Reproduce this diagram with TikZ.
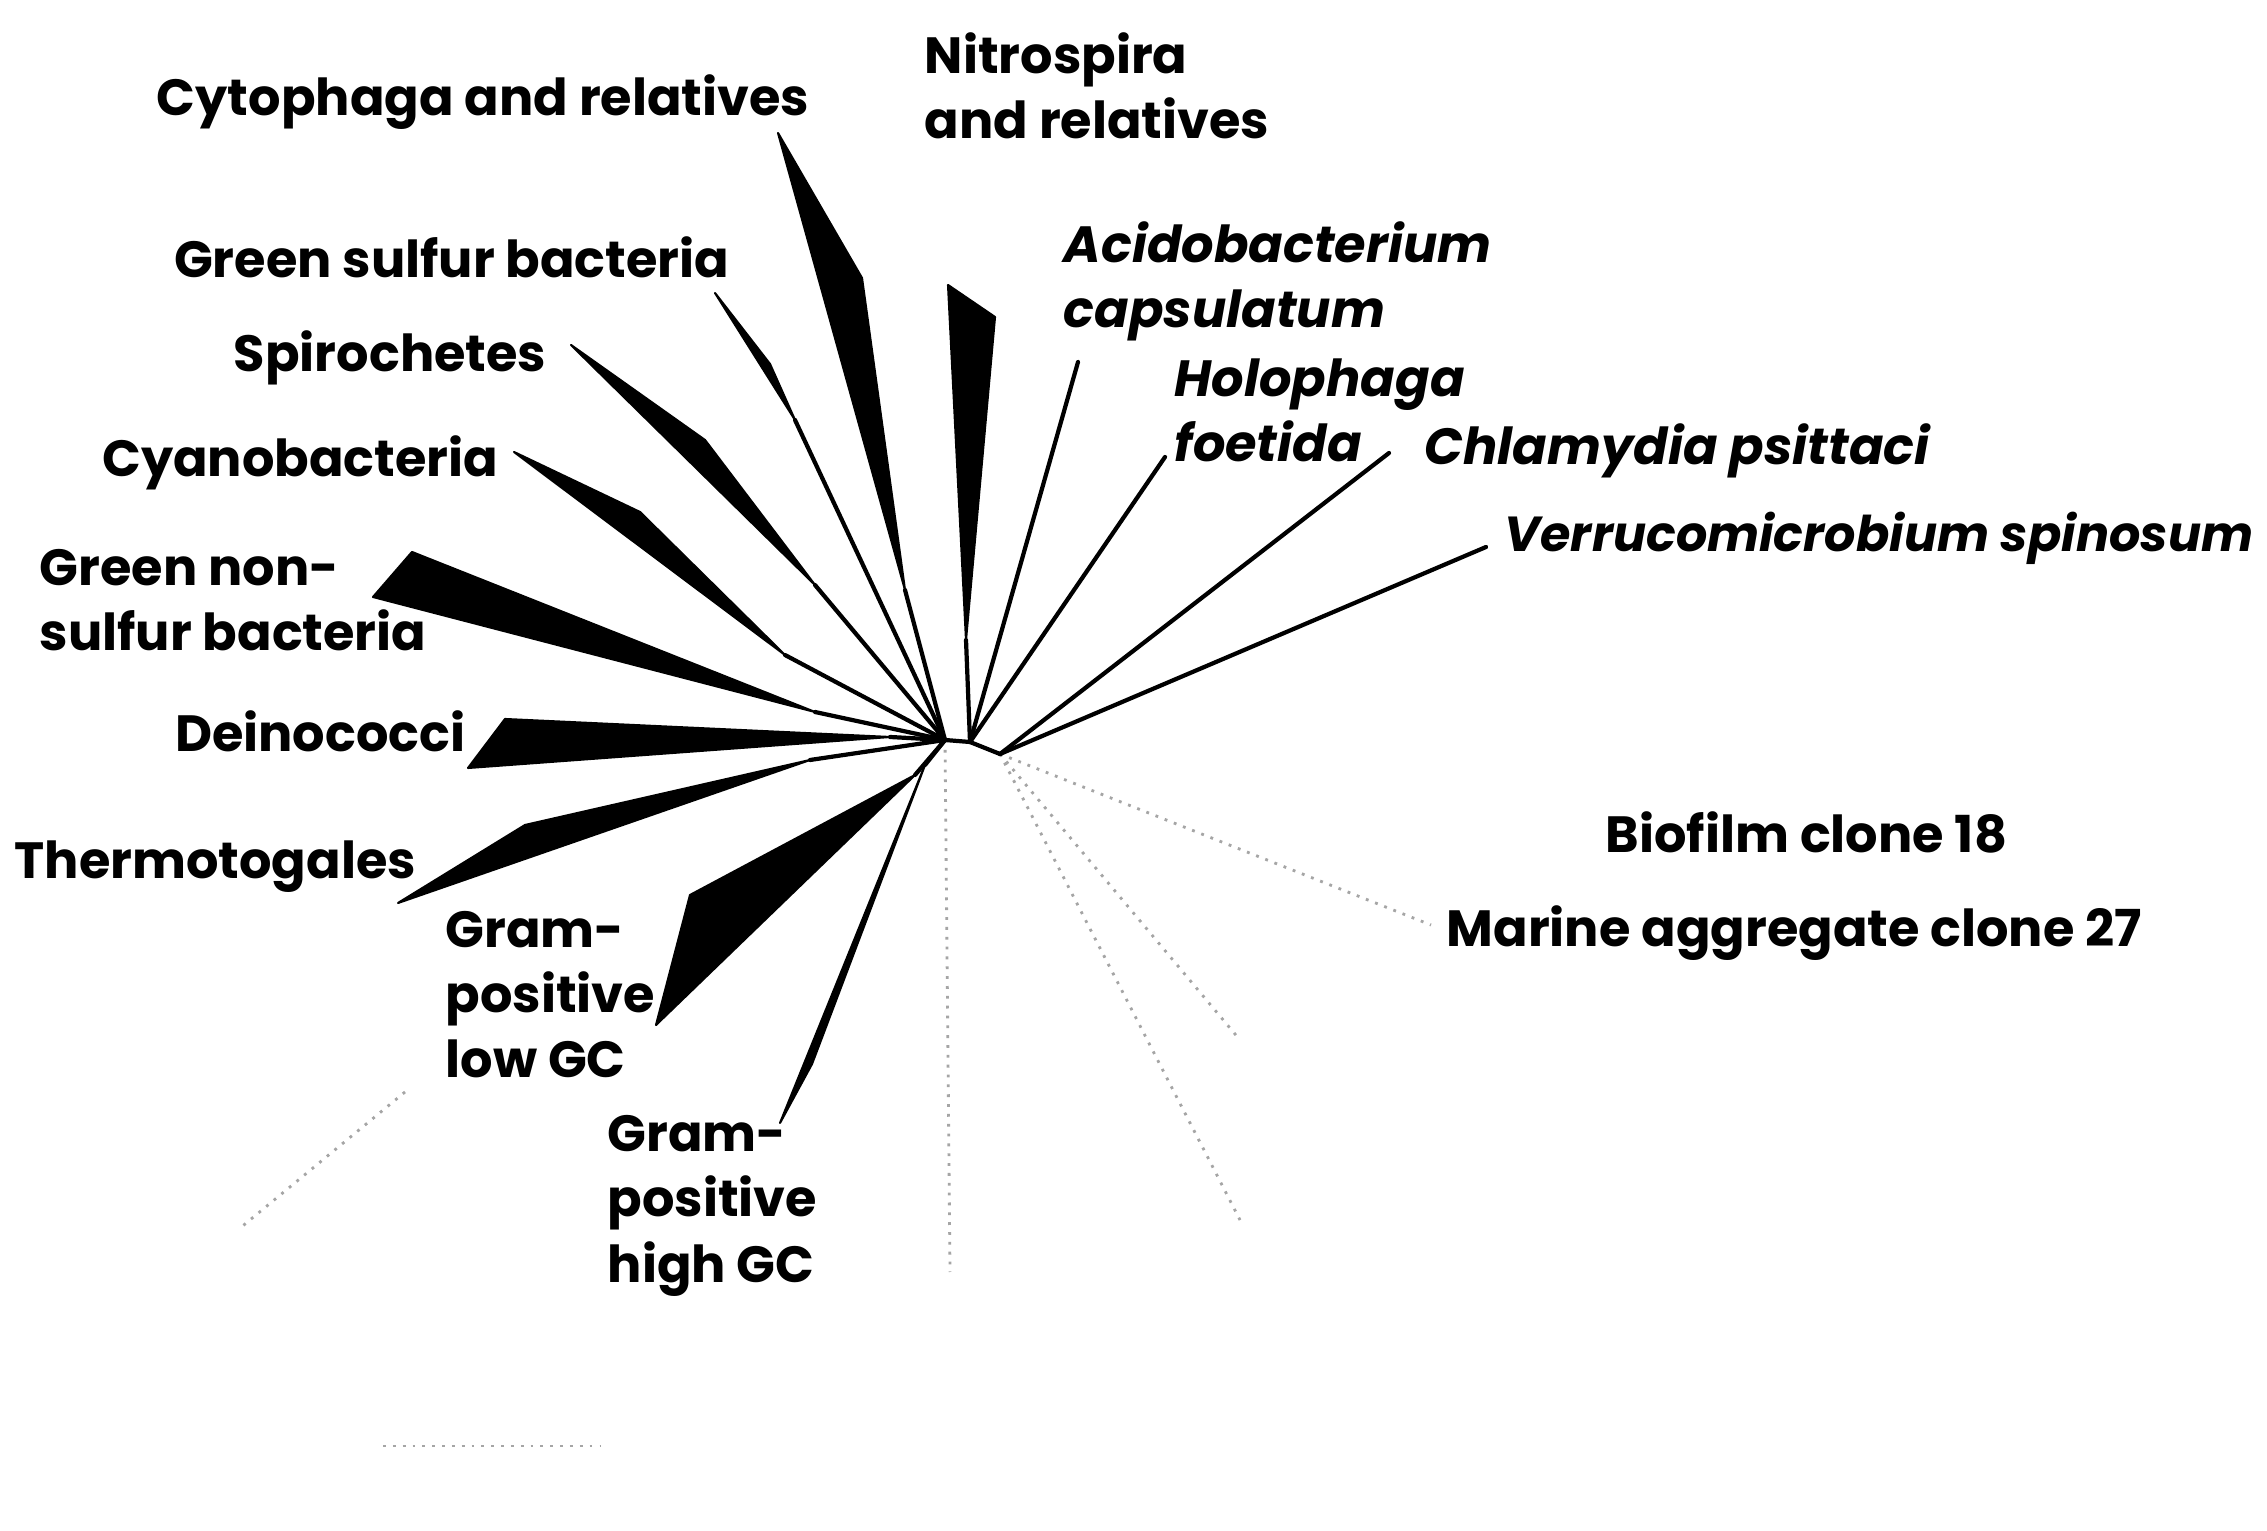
\documentclass[tikz,border=0pt]{standalone}
\usepackage{fontspec}
\setmainfont{Poppins}
\definecolor{ink}{RGB}{0,0,0}
\definecolor{paper}{RGB}{255,255,255}
\definecolor{ghost}{RGB}{165,165,165}
\tikzset{
  taxon/.style={font=\bfseries\fontsize{14.5}{18.5}\selectfont, text=ink, inner sep=0pt, align=left},
  species/.style={taxon, font=\bfseries\itshape\fontsize{14.5}{18.5}\selectfont},
  stem/.style={draw=ink, line width=1.2pt, line cap=round},
  wedge/.style={fill=ink, draw=ink, line width=0.6pt, line join=round},
  ghostline/.style={draw=ghost, dotted, line width=0.8pt}
}

\begin{document}
\begin{tikzpicture}[x=1cm,y=1cm]

% Background
\useasboundingbox (0,0) rectangle (22.67,15.30);
\fill[paper] (0,0) rectangle (22.67,15.30);

% Inner nodes of the tree
\coordinate (root) at (9.45,7.90);
\coordinate (nodeA) at (9.70,7.88);
\coordinate (nodeB) at (10.00,7.76);

% Collapsed clades: apex A, long tip L, short tip S
\coordinate (cytoA) at (9.05,9.40);   \coordinate (cytoL) at (7.78,13.97);  \coordinate (cytoS) at (8.62,12.52);
\coordinate (gsbA) at (7.95,11.10);   \coordinate (gsbL) at (7.15,12.37);   \coordinate (gsbS) at (7.70,11.66);
\coordinate (nitroA) at (9.66,8.90);  \coordinate (nitroL) at (9.48,12.45); \coordinate (nitroS) at (9.95,12.13);
\coordinate (spiroA) at (8.15,9.45);  \coordinate (spiroL) at (5.71,11.85); \coordinate (spiroS) at (7.05,10.90);
\coordinate (cyanoA) at (7.85,8.75);  \coordinate (cyanoL) at (5.14,10.78); \coordinate (cyanoS) at (6.40,10.18);
\coordinate (gnsA) at (8.15,8.18);    \coordinate (gnsL) at (3.73,9.33);    \coordinate (gnsS) at (4.12,9.78);
\coordinate (deinoA) at (8.90,7.93);  \coordinate (deinoL) at (4.68,7.62);  \coordinate (deinoS) at (5.05,8.11);
\coordinate (thermoA) at (8.10,7.70); \coordinate (thermoL) at (3.98,6.27); \coordinate (thermoS) at (5.25,7.05);
\coordinate (gplowA) at (9.15,7.55);  \coordinate (gplowL) at (6.56,5.05);  \coordinate (gplowS) at (6.90,6.35);
\coordinate (gphighA) at (9.25,7.65); \coordinate (gphighL) at (7.80,4.07); \coordinate (gphighS) at (8.12,4.66);

% Single species tips
\coordinate (acido) at (10.78,11.68);
\coordinate (holo) at (11.65,10.73);
\coordinate (chlam) at (13.89,10.77);
\coordinate (verru) at (14.86,9.83);

% Faded branches
\coordinate (ghostDown) at (9.50,2.58);
\coordinate (ghostR1) at (14.31,6.05);
\coordinate (ghostR2) at (12.40,4.90);
\coordinate (ghostR3) at (12.40,3.10);
\coordinate (ghostLLa) at (4.05,4.38);
\coordinate (ghostLLb) at (2.39,3.01);
\coordinate (barL) at (3.83,0.84);
\coordinate (barR) at (6.00,0.84);

\draw[ghostline] (root) -- (ghostDown);
\draw[ghostline] (nodeB) -- (ghostR1);
\draw[ghostline] (nodeB) -- (ghostR2);
\draw[ghostline] (nodeB) -- (ghostR3);
\draw[ghostline] (ghostLLa) -- (ghostLLb);
\draw[ghostline] (barL) -- (barR);

% Wedges and their stems
\foreach \clade in {cyto,gsb,spiro,cyano,gns,deino,thermo,gplow,gphigh} {
  \fill[wedge] (\clade L) -- (\clade S) -- (\clade A) -- cycle;
  \draw[stem] (root) -- (\clade A);
}
\fill[wedge] (nitroL) -- (nitroS) -- (nitroA) -- cycle;
\draw[stem] (nodeA) -- (nitroA);

% Right-hand branches
\draw[stem] (root) -- (nodeA) -- (nodeB);
\draw[stem] (nodeA) -- (acido);
\draw[stem] (nodeA) -- (holo);
\draw[stem] (nodeB) -- (chlam);
\draw[stem] (nodeB) -- (verru);

% Labels (base anchor sits on the last line)
\node[taxon, anchor=base east] (cytoLabel) at (8.10,14.14) {Cytophaga and relatives};
\node[taxon, anchor=base west] (nitroLabel) at (9.24,13.91) {Nitrospira\\and relatives};
\node[species, anchor=base west] (acidoLabel) at (10.63,12.02) {Acidobacterium\\capsulatum};
\node[species, anchor=base west] (holoLabel) at (11.74,10.68) {Holophaga\\foetida};
\node[species, anchor=base west] (chlamLabel) at (14.24,10.65) {Chlamydia psittaci};
\node[species, font=\bfseries\itshape\fontsize{14}{18}\selectfont, anchor=base west] (verruLabel) at (15.04,9.78) {Verrucomicrobium spinosum};
\node[taxon, anchor=base east] (gsbLabel) at (7.30,12.52) {Green sulfur bacteria};
\node[taxon, anchor=base east] (spiroLabel) at (5.47,11.58) {Spirochetes};
\node[taxon, anchor=base east] (cyanoLabel) at (4.99,10.53) {Cyanobacteria};
\node[taxon, anchor=base west] (gnsLabel) at (0.39,8.79) {Green non-\\sulfur bacteria};
\node[taxon, anchor=base east] (deinoLabel) at (4.66,7.78) {Deinococci};
\node[taxon, anchor=base west] (thermoLabel) at (0.14,6.51) {Thermotogales};
\node[taxon, anchor=base west] (gplowLabel) at (4.45,4.52) {Gram-\\positive\\low GC};
\node[taxon, anchor=base west] (gphighLabel) at (6.07,2.48) {Gram-\\positive\\high GC};
\node[taxon, anchor=base west] (biofilmLabel) at (16.05,6.77) {Biofilm clone 18};
\node[taxon, anchor=base west] (marineLabel) at (14.46,5.83) {Marine aggregate clone 27};

\end{tikzpicture}
\end{document}
